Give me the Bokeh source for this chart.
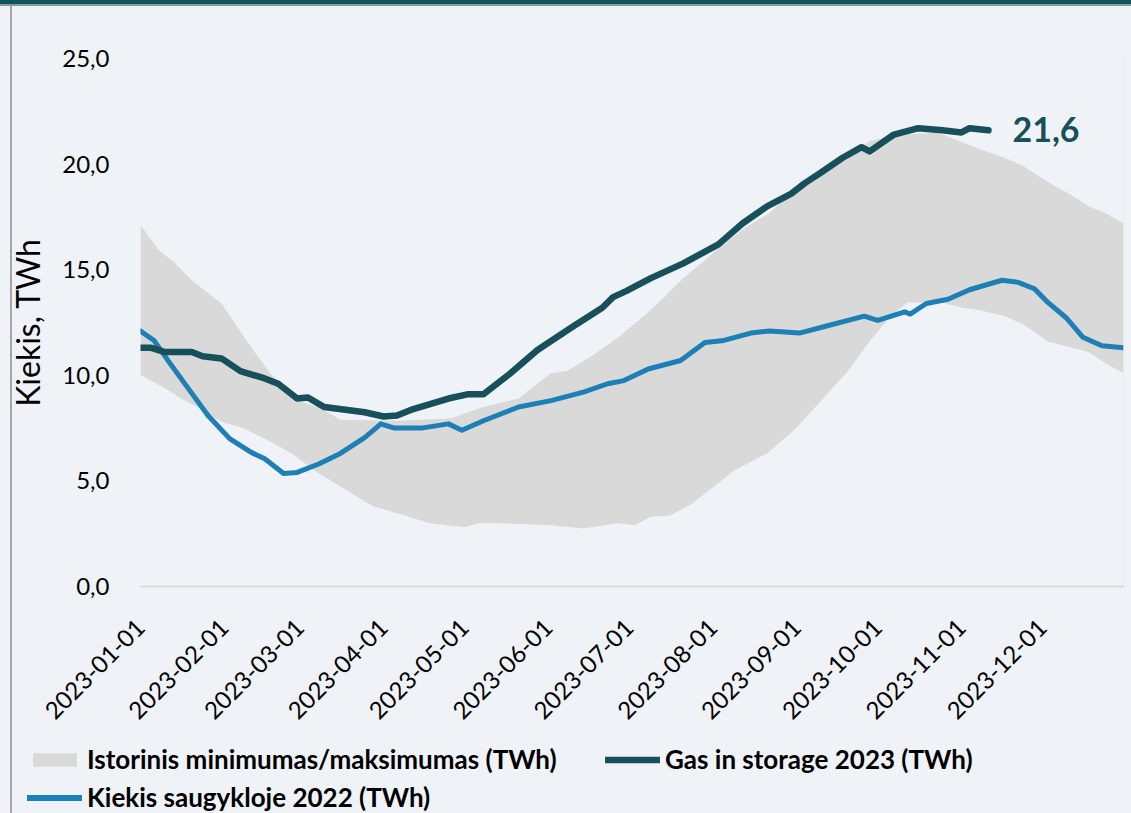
import pandas as pd
from bokeh.plotting import figure
from bokeh.models import (ColumnDataSource, Range1d, FixedTicker, Legend,
                          LegendItem, Span)
from bokeh.core.properties import value
from bokeh.embed import file_html
from bokeh.resources import INLINE

START = "2023-01-01"
END = "2023-12-31"

# Historical max (upper edge of band), days from Jan 1 and TWh
band_max_day = [0, 7, 12, 19, 30, 40, 48, 58, 66, 74, 96, 115, 127, 140, 152, 158,
                168, 177, 189, 201, 214, 224, 233, 244, 252, 260, 270, 283, 295,
                303, 311, 320, 327, 338, 344, 351, 357, 364]
band_max = [17.1, 15.9, 15.4, 14.5, 13.4, 11.5, 10.1, 8.8, 8.5, 7.9, 7.85, 7.97, 8.5,
            8.9, 10.1, 10.2, 11.0, 11.8, 13.1, 14.6, 16.0, 17.0, 17.7, 19.0, 19.5,
            20.1, 21.1, 21.4, 21.5, 21.1, 20.7, 20.3, 19.9, 19.0, 18.6, 18.0, 17.7, 17.2]

# Historical min (lower edge of band)
band_min_day = [0, 9, 15, 21, 30, 38, 46, 56, 66, 77, 86, 97, 107, 120, 125, 133,
                152, 164, 177, 183, 189, 196, 204, 214, 220, 232, 242, 252, 262,
                270, 277, 284, 297, 304, 310, 320, 327, 336, 351, 357, 364]
band_min = [10.0, 9.4, 8.9, 8.5, 7.8, 7.5, 7.0, 6.3, 5.35, 4.5, 3.8, 3.4, 3.0, 2.8,
            3.0, 3.0, 2.9, 2.75, 3.0, 2.9, 3.3, 3.35, 3.9, 4.9, 5.5, 6.3, 7.4, 8.8,
            10.2, 11.6, 12.7, 13.45, 13.45, 13.2, 13.1, 12.8, 12.4, 11.6, 11.1,
            10.6, 10.1]

# Gas in storage 2023
gas23_day = [0, 4, 9, 19, 23, 30, 37, 46, 51, 58, 62, 68, 83, 90, 95, 101, 114,
             121, 127, 137, 147, 160, 171, 175, 180, 189, 201, 214, 223, 232, 241,
             246, 252, 260, 267, 270, 279, 288, 297, 304, 307, 314]
gas23 = [11.3, 11.3, 11.1, 11.1, 10.9, 10.8, 10.2, 9.85, 9.6, 8.9, 8.95, 8.5, 8.25,
         8.05, 8.1, 8.4, 8.9, 9.1, 9.1, 10.1, 11.2, 12.3, 13.2, 13.7, 14.0, 14.6,
         15.3, 16.2, 17.2, 18.0, 18.6, 19.1, 19.6, 20.3, 20.8, 20.6, 21.4, 21.7,
         21.6, 21.5, 21.7, 21.6]

# Kiekis saugykloje 2022
kiekis22_day = [0, 5, 11, 17, 25, 33, 41, 46, 53, 58, 66, 74, 83, 89, 94, 104, 114,
                119, 127, 140, 152, 164, 173, 179, 188, 200, 209, 216, 226, 233,
                244, 253, 268, 273, 283, 285, 291, 299, 307, 319, 325, 331, 336,
                343, 349, 356, 364]
kiekis22 = [12.1, 11.65, 10.55, 9.5, 8.1, 7.0, 6.35, 6.05, 5.35, 5.4, 5.8, 6.3, 7.05,
            7.7, 7.5, 7.5, 7.7, 7.4, 7.85, 8.5, 8.8, 9.2, 9.6, 9.75, 10.3, 10.7,
            11.55, 11.65, 12.0, 12.1, 12.0, 12.3, 12.8, 12.6, 13.0, 12.9, 13.4, 13.6,
            14.05, 14.5, 14.4, 14.1, 13.45, 12.7, 11.8, 11.4, 11.3]

x_tick_labels = ["2023-01-01", "2023-02-01", "2023-03-01", "2023-04-01", "2023-05-01",
                 "2023-06-01", "2023-07-01", "2023-08-01", "2023-09-01", "2023-10-01",
                 "2023-11-01", "2023-12-01"]
y_ticks = [0, 5, 10, 15, 20, 25]
y_tick_labels = ["0,0", "5,0", "10,0", "15,0", "20,0", "25,0"]
last_label = "21,6"

series_names = ["Istorinis minimumas/maksimumas (TWh)",
                "Gas in storage 2023 (TWh)",
                "Kiekis saugykloje 2022 (TWh)"]

BG = "#eff3f7"
DARK = "#17505a"
BLUE = "#1c7fb6"
GRAY = "#d9d9d9"
FONT = "Lato"
LEFT_LINE = ("linear-gradient(to right, transparent 10px, #a6a6a6 10px, "
             "#a6a6a6 12px, transparent 12px)")


def to_dates(days):
    return pd.Timestamp(START) + pd.to_timedelta(days, unit="D")


def ms(ts):
    return (pd.Timestamp(ts) - pd.Timestamp("1970-01-01")) / pd.Timedelta(milliseconds=1)


band_x = list(to_dates(band_max_day)) + list(to_dates(band_min_day))[::-1]
band_y = band_max + band_min[::-1]
band_src = ColumnDataSource(dict(x=band_x, y=band_y))
src22 = ColumnDataSource(dict(x=to_dates(kiekis22_day), y=kiekis22))
src23 = ColumnDataSource(dict(x=to_dates(gas23_day), y=gas23))

# ---------------- main chart ----------------
p = figure(width=1131, height=740, x_axis_type="datetime",
           output_backend="svg", toolbar_location=None,
           x_range=Range1d(pd.Timestamp(START), pd.Timestamp(END)),
           y_range=Range1d(0, 25),
           min_border_left=140, min_border_right=8,
           min_border_top=58, min_border_bottom=154)
p.styles = {
    "background-color": BG,
    "background-image": ("linear-gradient(to bottom, #0d5560 0px, #0d5560 4px, "
                         "#8a979b 4px, #8a979b 6px, transparent 6px), " + LEFT_LINE),
}
p.background_fill_color = BG
p.border_fill_color = None
p.outline_line_color = None
p.xgrid.grid_line_color = None
p.ygrid.grid_line_color = None

p.patch("x", "y", source=band_src, fill_color=GRAY, line_color=None)
p.line("x", "y", source=src22, line_color=BLUE, line_width=5,
       line_cap="round", line_join="round")
p.line("x", "y", source=src23, line_color=DARK, line_width=6.5,
       line_cap="round", line_join="round")

p.text(x=[to_dates([gas23_day[-1]])[0]], y=[gas23[-1]], text=[last_label],
       x_offset=24, y_offset=-1, text_baseline="middle", text_align="left",
       text_font=value(FONT), text_font_style="bold", text_font_size="34px",
       text_color=DARK)

p.add_layout(Span(location=ms(END), dimension="height", line_color="#dde1e5",
                  line_width=1))

# x axis
xa = p.xaxis[0]
xa.ticker = FixedTicker(ticks=[ms(t) for t in x_tick_labels])
xa.major_label_overrides = {ms(t): t for t in x_tick_labels}
xa.major_label_orientation = 0.785398
xa.axis_line_color = GRAY
xa.axis_line_width = 2
xa.major_tick_line_color = None
xa.minor_tick_line_color = None
xa.major_label_text_font = FONT
xa.major_label_text_font_size = "24px"
xa.major_label_text_color = "#000000"
xa.major_label_standoff = 31

# y axis
ya = p.yaxis[0]
ya.ticker = FixedTicker(ticks=y_ticks)
ya.major_label_overrides = {t: l for t, l in zip(y_ticks, y_tick_labels)}
ya.axis_line_color = None
ya.major_tick_line_color = None
ya.minor_tick_line_color = None
ya.major_label_text_font = FONT
ya.major_label_text_font_size = "24px"
ya.major_label_text_color = "#000000"
ya.major_label_standoff = 25
ya.axis_label = "Kiekis, TWh"
ya.axis_label_text_font = FONT
ya.axis_label_text_font_size = "32px"
ya.axis_label_text_font_style = "normal"
ya.axis_label_text_color = "#000000"
ya.axis_label_standoff = 12

# ---------------- legend strip ----------------
q = figure(width=1131, height=73, output_backend="svg", toolbar_location=None,
           x_range=Range1d(0, 1), y_range=Range1d(0, 1),
           x_axis_location=None, y_axis_location=None,
           min_border=0, min_border_left=0, min_border_right=0,
           min_border_top=0, min_border_bottom=0)
q.styles = {"background-color": BG, "background-image": LEFT_LINE}
q.background_fill_color = BG
q.background_fill_alpha = 0
q.border_fill_color = None
q.outline_line_color = None
q.xgrid.grid_line_color = None
q.ygrid.grid_line_color = None

# same series (outside this strip's ranges), used only for the legend swatches
lg_band = q.patch("x", "y", source=band_src, fill_color=GRAY, line_color=None)
lg23 = q.line("x", "y", source=src23, line_color=DARK, line_width=6.5, line_cap="round")
lg22 = q.line("x", "y", source=src22, line_color=BLUE, line_width=6, line_cap="round")

legend = Legend(items=[LegendItem(label=series_names[0], renderers=[lg_band]),
                       LegendItem(label=series_names[1], renderers=[lg23]),
                       LegendItem(label=series_names[2], renderers=[lg22])],
                orientation="horizontal", ncols=2, location=(27, 0),
                label_text_font=FONT, label_text_font_style="bold",
                label_text_font_size="26px", label_text_color="#000000",
                glyph_width=55, glyph_height=17, label_standoff=5,
                label_height=26, label_width=512, spacing=6, padding=0, margin=0,
                background_fill_alpha=0, border_line_alpha=0)
q.add_layout(legend, "center")

html = file_html([p, q], INLINE)
html = html.replace("<head>", "<head><style>body{background:%s;}</style>" % BG, 1)
open("out.html", "w").write(html)
